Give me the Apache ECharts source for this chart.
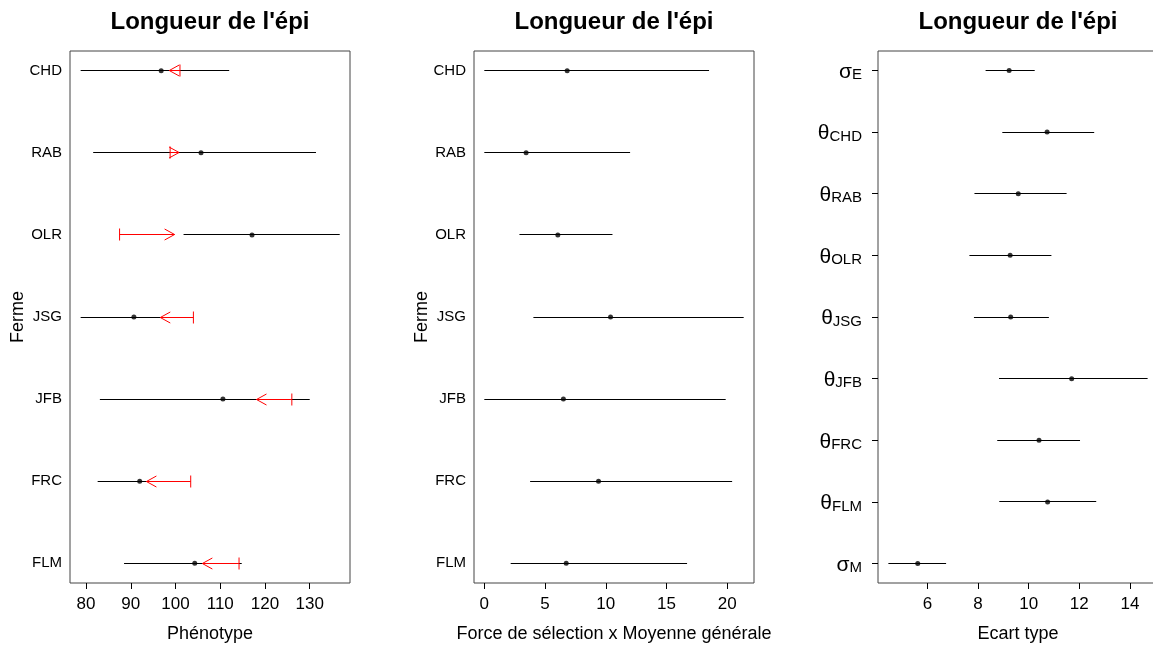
<!DOCTYPE html>
<html>
<head>
<meta charset="utf-8">
<script src="https://cdn.jsdelivr.net/npm/echarts@6/dist/echarts.min.js"></script>
<style>html,body{margin:0;padding:0;background:#fff}#c{width:1153px;height:645px}</style>
</head>
<body>
<div id="c"></div>
<script>
// ---------- data ----------
const farms = ['CHD', 'RAB', 'OLR', 'JSG', 'JFB', 'FRC', 'FLM'];
// Panel 1: Phénotype
const phenoLow  = [78.8, 81.6, 101.8, 78.8, 83.1, 82.6, 88.5];
const phenoEst  = [96.8, 105.7, 117.1, 90.7, 110.6, 92.0, 104.3];
const phenoHigh = [112.0, 131.4, 136.7, 101.0, 130.0, 99.2, 114.8];
const arrowFrom = [101.0, 98.8, 87.5, 104.0, 126.0, 103.4, 114.2];
const arrowTo   = [98.6, 100.8, 99.8, 96.6, 118.1, 93.5, 106.0];
const phenoTicks = [80, 90, 100, 110, 120, 130];
// Panel 2: Force de sélection x Moyenne générale
const selLow  = [0.0, 0.0, 2.89, 4.04, 0.0, 3.77, 2.17];
const selEst  = [6.82, 3.44, 6.05, 10.39, 6.51, 9.40, 6.74];
const selHigh = [18.5, 12.0, 10.55, 21.35, 19.87, 20.4, 16.69];
const selTicks = [0, 5, 10, 15, 20];
// Panel 3: Ecart type
const paramSymbols = ['σ', 'θ', 'θ', 'θ', 'θ', 'θ', 'θ', 'θ', 'σ'];
const paramSubs    = ['E', 'CHD', 'RAB', 'OLR', 'JSG', 'JFB', 'FRC', 'FLM', 'M'];
const sdLow  = [8.30, 8.96, 7.86, 7.66, 7.84, 8.83, 8.76, 8.84, 4.46];
const sdEst  = [9.23, 10.73, 9.59, 9.27, 9.29, 11.70, 10.41, 10.75, 5.62];
const sdHigh = [10.24, 12.59, 11.50, 10.90, 10.80, 14.70, 12.03, 12.67, 6.74];
const sdTicks = [6, 8, 10, 12, 14];

const titleText = "Longueur de l'épi";
const FONT = "'Liberation Sans', Arial, Helvetica, sans-serif";

// ---------- helpers ----------
function snap(v) { return Math.round(v - 0.5) + 0.5; }
function intervalSeries(idx, lows, highs) {
  return {
    type: 'custom', xAxisIndex: idx, yAxisIndex: idx, silent: true, z: 2, clip: false,
    data: lows.map((l, i) => [l, highs[i], i + 1]),
    encode: { x: [0, 1], y: 2 },
    renderItem: function (params, api) {
      const a = api.coord([api.value(0), api.value(2)]);
      const b = api.coord([api.value(1), api.value(2)]);
      const y = snap(a[1]);
      return { type: 'line', shape: { x1: a[0], y1: y, x2: b[0], y2: y },
        style: { stroke: '#000', lineWidth: 1 } };
    }
  };
}
function pointSeries(idx, ests) {
  return {
    type: 'scatter', xAxisIndex: idx, yAxisIndex: idx, silent: true, z: 4,
    symbol: 'circle', symbolSize: 5,
    itemStyle: { color: '#000' },
    data: ests.map((v, i) => [v, i + 1])
  };
}
function arrowSeries(idx, froms, tos) {
  return {
    type: 'custom', xAxisIndex: idx, yAxisIndex: idx, silent: true, z: 3, clip: false,
    data: froms.map((f, i) => [f, tos[i], i + 1]),
    encode: { x: [0, 1], y: 2 },
    renderItem: function (params, api) {
      const a = api.coord([api.value(0), api.value(2)]);
      const b = api.coord([api.value(1), api.value(2)]);
      const y = snap(a[1]);
      const d = b[0] >= a[0] ? 1 : -1;
      const st = { stroke: '#ff0000', lineWidth: 1 };
      return { type: 'group', children: [
        { type: 'line', shape: { x1: a[0], y1: y, x2: b[0], y2: y }, style: st },
        { type: 'line', shape: { x1: a[0], y1: y - 6, x2: a[0], y2: y + 6 }, style: st },
        { type: 'line', shape: { x1: b[0], y1: y, x2: b[0] - d * 10, y2: y - 5.5 }, style: st },
        { type: 'line', shape: { x1: b[0], y1: y, x2: b[0] - d * 10, y2: y + 5.5 }, style: st }
      ] };
    }
  };
}
function xAxisDef(idx, min, max, ticks, name) {
  return {
    type: 'value', gridIndex: idx, min: min, max: max, name: name,
    nameLocation: 'middle', nameGap: 42,
    nameTextStyle: { fontFamily: FONT, fontSize: 18, color: '#000' },
    axisLine: { show: false },
    splitLine: { show: false },
    axisTick: { show: true, inside: false, length: 6, customValues: ticks,
      lineStyle: { color: '#000', width: 1 } },
    axisLabel: { customValues: ticks, margin: 13, fontFamily: FONT, fontSize: 17, color: '#000',
      formatter: v => String(Math.round(v)) }
  };
}
function farmYAxis(idx) {
  return {
    type: 'value', gridIndex: idx, inverse: true, min: 0.76, max: 7.24,
    name: 'Ferme', nameLocation: 'middle', nameGap: 43, nameRotate: 90, nameMoveOverlap: false,
    nameTextStyle: { fontFamily: FONT, fontSize: 18, color: '#000' },
    axisLine: { show: false }, splitLine: { show: false },
    axisTick: { show: false },
    axisLabel: { customValues: rowVals7, margin: 8, fontFamily: FONT, fontSize: 15, color: '#000',
      formatter: v => farms[Math.round(v) - 1] }
  };
}
const gridStyle = { show: true, borderColor: '#444', borderWidth: 1, backgroundColor: 'transparent',
  containLabel: false, outerBoundsMode: 'none' };

const rowVals7 = farms.map((f, i) => i + 1);
const rowVals9 = paramSubs.map((f, i) => i + 1);

const option = {
  animation: false,
  backgroundColor: '#fff',
  grid: [
    Object.assign({ left: 70, top: 51, width: 280, height: 532 }, gridStyle),
    Object.assign({ left: 474, top: 51, width: 280, height: 532 }, gridStyle),
    Object.assign({ left: 878, top: 51, width: 280, height: 532 }, gridStyle)
  ],
  xAxis: [
    xAxisDef(0, 76.42, 139.0, phenoTicks, 'Phénotype'),
    xAxisDef(1, -0.85, 22.2, selTicks, 'Force de sélection x Moyenne générale'),
    xAxisDef(2, 4.05, 15.11, sdTicks, 'Ecart type')
  ],
  yAxis: [
    farmYAxis(0),
    farmYAxis(1),
    {
      type: 'value', gridIndex: 2, inverse: true, min: 0.684, max: 9.316,
      axisLine: { show: false }, splitLine: { show: false },
      axisTick: { show: true, inside: false, length: 6, customValues: rowVals9,
        lineStyle: { color: '#000', width: 1 } },
      axisLabel: { customValues: rowVals9, margin: 16, color: '#000',
        formatter: v => { const i = Math.round(v) - 1; return '{g|' + paramSymbols[i] + '}{s|' + paramSubs[i] + '}'; },
        rich: {
          g: { fontFamily: FONT, fontSize: 21, color: '#000', verticalAlign: 'bottom', lineHeight: 24 },
          s: { fontFamily: FONT, fontSize: 15, color: '#000', verticalAlign: 'bottom', lineHeight: 20 }
        }
      }
    }
  ],
  graphic: [
    { type: 'text', x: 210, y: 22, style: { text: titleText, font: 'bold 24px ' + FONT, fill: '#000', align: 'center', verticalAlign: 'middle' } },
    { type: 'text', x: 614, y: 22, style: { text: titleText, font: 'bold 24px ' + FONT, fill: '#000', align: 'center', verticalAlign: 'middle' } },
    { type: 'text', x: 1018, y: 22, style: { text: titleText, font: 'bold 24px ' + FONT, fill: '#000', align: 'center', verticalAlign: 'middle' } }
  ],
  series: [
    intervalSeries(0, phenoLow, phenoHigh),
    arrowSeries(0, arrowFrom, arrowTo),
    pointSeries(0, phenoEst),
    intervalSeries(1, selLow, selHigh),
    pointSeries(1, selEst),
    intervalSeries(2, sdLow, sdHigh),
    pointSeries(2, sdEst)
  ]
};

const chart = echarts.init(document.getElementById('c'), null, { renderer: 'canvas' });
chart.setOption(option);
</script>
</body>
</html>
